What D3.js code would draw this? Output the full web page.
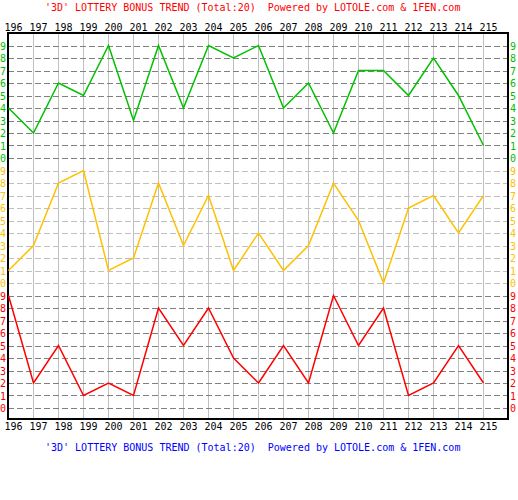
<!DOCTYPE html>
<html>
<head>
<meta charset="utf-8">
<script src="https://cdn.jsdelivr.net/npm/d3@7"></script>
<style>
  body { margin: 0; background: #fff; }
  svg { display: block; }
  text { font-family: "DejaVu Sans Mono", monospace; font-size: 10px; white-space: pre; }
</style>
</head>
<body>
<svg width="518" height="500"></svg>
<script>
// issue numbers
const issues = [196, 197, 198, 199, 200, 201, 202, 203, 204, 205,
                206, 207, 208, 209, 210, 211, 212, 213, 214, 215];

// digit values per position (hundreds, tens, units)
const greenVals  = [4, 2, 6, 5, 9, 3, 9, 4, 9, 8, 9, 4, 6, 2, 7, 7, 5, 8, 5, 1];
const yellowVals = [1, 3, 8, 9, 1, 2, 8, 3, 7, 1, 4, 1, 3, 8, 5, 0, 6, 7, 4, 7];
const redVals    = [9, 2, 5, 1, 2, 1, 8, 5, 8, 4, 2, 5, 2, 9, 5, 8, 1, 2, 5, 2];

const digits = [9, 8, 7, 6, 5, 4, 3, 2, 1, 0];
const titleText = "'3D' LOTTERY BONUS TREND (Total:20)  Powered by LOTOLE.com & 1FEN.com";

const bands = [
    { values: greenVals,  color: "#00c000", grid: "#808080", top: 45.5 },
    { values: yellowVals, color: "#ffc000", grid: "#c0c0c0", top: 170.5 },
    { values: redVals,    color: "#ff0000", grid: "#808080", top: 295.5 }
];

const svg = d3.select("svg");
const frame = { left: 8, right: 508, top: 33, bottom: 419 };

const x = d3.scalePoint().domain(issues).range([8, 483]);

// vertical grid lines
svg.append("g").selectAll("line").data(issues).enter()
    .append("line")
    .attr("x1", d => x(d) + 0.5).attr("x2", d => x(d) + 0.5)
    .attr("y1", frame.top).attr("y2", frame.bottom)
    .attr("stroke", "#c0c0c0")
    .attr("shape-rendering", "crispEdges");

bands.forEach(b => {
    b.y = d3.scaleLinear().domain([9, 0]).range([b.top, b.top + 112.5]);

    // dashed row lines
    svg.append("g").selectAll("line").data(digits).enter()
        .append("line")
        .attr("x1", frame.left).attr("x2", frame.right)
        .attr("y1", d => Math.round(b.y(d)) + 0.5)
        .attr("y2", d => Math.round(b.y(d)) + 0.5)
        .attr("stroke", b.grid)
        .attr("stroke-dasharray", "6,3")
        .attr("shape-rendering", "crispEdges");

    // digit labels on both sides
    [0, 510].forEach(lx => {
        svg.append("g").selectAll("text").data(digits).enter()
            .append("text")
            .attr("x", lx)
            .attr("y", d => b.y(d) + 4)
            .attr("fill", b.color)
            .text(d => d);
    });
});

// frame
svg.append("rect")
    .attr("x", frame.left).attr("y", frame.top)
    .attr("width", frame.right - frame.left)
    .attr("height", frame.bottom - frame.top)
    .attr("fill", "none")
    .attr("stroke", "#000")
    .attr("stroke-width", 1.5)
    .attr("shape-rendering", "crispEdges");

// trend lines
bands.forEach(b => {
    const line = d3.line()
        .x((d, i) => x(issues[i]) + 0.5)
        .y(d => b.y(d));
    svg.append("path")
        .datum(b.values)
        .attr("d", line)
        .attr("fill", "none")
        .attr("stroke", b.color)
        .attr("stroke-width", 1.5);
});

// issue labels top and bottom
[31, 430].forEach(ly => {
    svg.append("g").selectAll("text").data(issues).enter()
        .append("text")
        .attr("x", d => x(d) + 5.5)
        .attr("y", ly)
        .attr("text-anchor", "middle")
        .attr("fill", "#000")
        .text(d => d);
});

// titles
svg.append("text").attr("x", 45).attr("y", 11).attr("fill", "#ff0000").text(titleText);
svg.append("text").attr("x", 45).attr("y", 451).attr("fill", "#0000ff").text(titleText);
</script>
</body>
</html>
